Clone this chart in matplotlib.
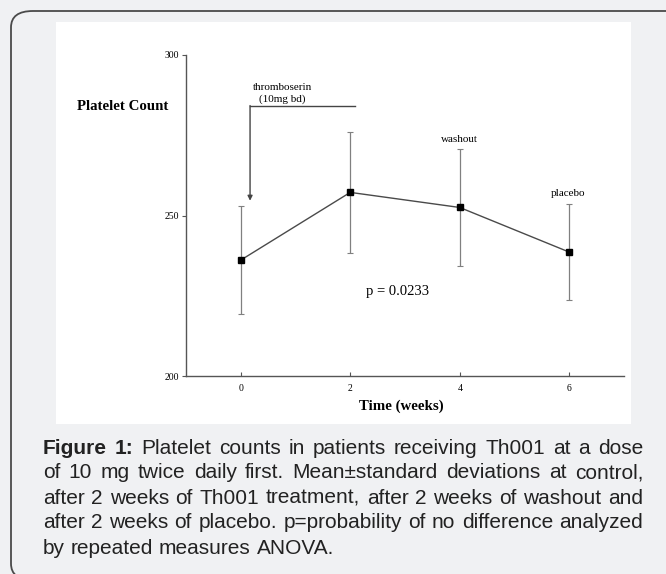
import matplotlib
matplotlib.use("Agg")
import matplotlib.pyplot as plt
from matplotlib import font_manager
from matplotlib.patches import FancyBboxPatch, Rectangle

# ------------------------------------------------------------------
# donnees
# ------------------------------------------------------------------
semaines = [0, 2, 4, 6]
moyennes = [236.1, 257.2, 252.5, 238.6]
ecarts   = [16.9, 18.8, 18.2, 14.9]

etiquettes_x = ["0", "2", "4", "6"]
etiquettes_y = ["200", "250", "300"]
graduations_y = [200, 250, 300]

legende = [
    [("Figure 1:", "bold"), ("Platelet counts in patients receiving Th001 at a dose", "normal")],
    [("of 10 mg twice daily first. Mean\u00b1standard deviations at control,", "normal")],
    [("after 2 weeks of Th001 treatment, after 2 weeks of washout and", "normal")],
    [("after 2 weeks of placebo. p=probability of no difference analyzed", "normal")],
    [("by repeated measures ANOVA.", "normal")],
]

W, H = 666, 574
fig = plt.figure(figsize=(W / 100, H / 100), dpi=100)
fig.patch.set_facecolor("#f0f1f3")

def fx(px):
    return px / W

def fy(py):
    return 1 - py / H

# cadre arrondi + panneau blanc (sous les axes)
cadre = FancyBboxPatch((fx(11), fy(580)), fx(720 - 11), (580 - 11) / H,
                       boxstyle="round,pad=0,rounding_size=0.033",
                       transform=fig.transFigure, facecolor="none",
                       edgecolor="#4a4a4a", linewidth=1.3, mutation_aspect=H / W,
                       zorder=-2)
fig.patches.append(cadre)
fig.patches.append(Rectangle((fx(56), fy(424)), fx(631 - 56), (424 - 22) / H,
                             transform=fig.transFigure, facecolor="white",
                             edgecolor="none", zorder=-1))

serif = "Liberation Serif"
gris = "#555555"

ax = fig.add_axes([fx(186), fy(376), fx(624 - 186), (376 - 55) / H])
ax.set_facecolor("none")
ax.errorbar(semaines, moyennes, yerr=ecarts, color="#4a4a4a", lw=1.0,
            ecolor="#808080", elinewidth=0.9, capsize=2, capthick=0.8,
            marker="s", markersize=5, markerfacecolor="black",
            markeredgecolor="black", zorder=3)

ax.set_xlim(-1, 7)
ax.set_ylim(200, 300)
ax.set_xticks(semaines)
ax.set_xticklabels(etiquettes_x, family=serif, fontsize=7)
ax.set_yticks(graduations_y)
ax.set_yticklabels(etiquettes_y, family=serif, fontsize=7)
ax.tick_params(axis="x", direction="in", length=3, color=gris, pad=6)
ax.tick_params(axis="y", direction="out", length=3, color=gris, pad=2)
for s in ["top", "right"]:
    ax.spines[s].set_visible(False)
for s in ["left", "bottom"]:
    ax.spines[s].set_color(gris)
    ax.spines[s].set_linewidth(1.0)

# annotations
fleche_x, fleche_haut, fleche_bas, crochet_fin = 0.17, 284.1, 254.6, 2.09
ax.plot([fleche_x, crochet_fin], [fleche_haut, fleche_haut], color="#444444", lw=1.0)
ax.annotate("", xy=(fleche_x, fleche_bas), xytext=(fleche_x, fleche_haut + 0.15),
            arrowprops=dict(arrowstyle="-|>", color="#444444", lw=1.0,
                            mutation_scale=7, shrinkA=0, shrinkB=0))
ax.text(0.755, 289.9, "thromboserin", family=serif, fontsize=8,
        ha="center", va="center")
ax.text(0.755, 286.3, "(10mg bd)", family=serif, fontsize=8,
        ha="center", va="center")
ax.text(3.99, 273.6, "washout", family=serif, fontsize=8, ha="center", va="center")
ax.text(5.97, 256.8, "placebo", family=serif, fontsize=8, ha="center", va="center")
ax.text(2.87, 226.2, "p = 0.0233", family=serif, fontsize=10.5, ha="center", va="center")

fig.text(fx(123), fy(106), "Platelet Count", family=serif, fontsize=10.7,
         fontweight="bold", ha="center", va="center")
fig.text(fx(401), fy(406), "Time (weeks)", family=serif, fontsize=10.7,
         fontweight="bold", ha="center", va="center")

# legende justifiee : police etroite si disponible
noms = {f.name for f in font_manager.fontManager.ttflist}
if "Liberation Sans Narrow" in noms:
    police, taille = "Liberation Sans Narrow", 13.4
else:
    police, taille = "Liberation Sans", 13.2

rendu = fig.canvas.get_renderer()
x_debut, x_fin = 43, 643

def poser(taille, garder):
    lignes = []
    for i, ligne in enumerate(legende):
        base = fy(453.5 + 25 * i)
        objets = []
        for txt, poids in ligne:
            for m in txt.split(" "):
                objets.append(fig.text(0, base, m, family=police, fontsize=taille,
                                       fontweight=poids, color="#222222",
                                       ha="left", va="baseline"))
        largeurs = [t.get_window_extent(rendu).width for t in objets]
        lignes.append((objets, largeurs))
    esp_normal = taille * 0.278 * 100 / 72
    naturel = max(sum(l) + esp_normal * (len(l) - 1) for _, l in lignes)
    if not garder:
        for objets, _ in lignes:
            for t in objets:
                t.remove()
        return naturel
    for i, (objets, largeurs) in enumerate(lignes):
        if i == len(lignes) - 1:
            esp = esp_normal
        else:
            esp = (x_fin - x_debut - sum(largeurs)) / (len(objets) - 1)
        x = x_debut
        for t, w in zip(objets, largeurs):
            t.set_x(fx(x))
            x += w + esp
    return naturel

naturel = poser(taille, False)
taille = min(taille, taille * (x_fin - x_debut - 4) / naturel) if naturel > 0 else taille
if police == "Liberation Sans":
    taille = taille * (x_fin - x_debut - 4) / naturel
poser(taille, True)

fig.savefig("out.png", dpi=100, facecolor=fig.get_facecolor())
